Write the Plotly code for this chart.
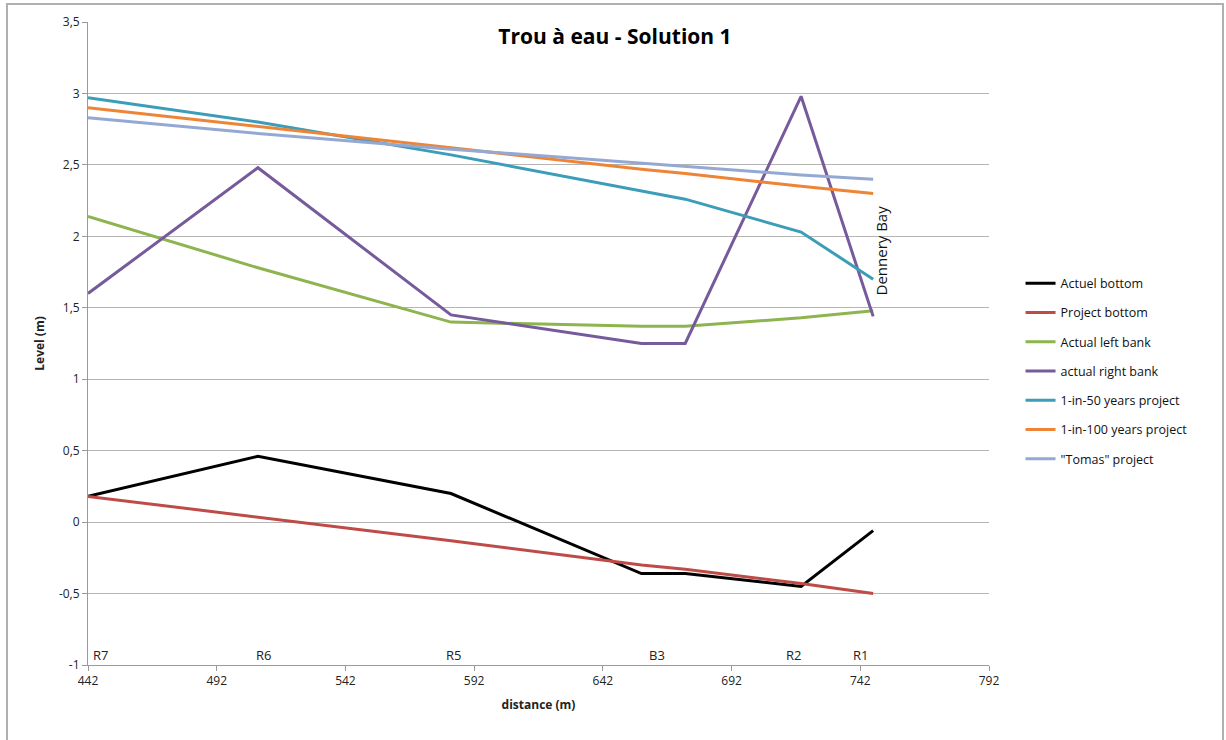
import plotly.graph_objects as go

# Chainage along the reach (m)
distance = [442, 508, 583, 657, 674, 719, 747]

actuel_bottom = [0.18, 0.46, 0.20, -0.36, -0.36, -0.45, -0.06]
project_bottom = [0.18, 0.035, -0.13, -0.30, -0.33, -0.43, -0.50]
left_bank = [2.14, 1.78, 1.40, 1.37, 1.37, 1.43, 1.48]
right_bank = [1.60, 2.48, 1.45, 1.25, 1.25, 2.98, 1.44]
proj_50 = [2.97, 2.80, 2.57, 2.32, 2.26, 2.03, 1.70]
proj_100 = [2.90, 2.77, 2.62, 2.47, 2.44, 2.35, 2.30]
proj_tomas = [2.83, 2.72, 2.61, 2.51, 2.49, 2.43, 2.40]

# Cross-section labels along the bottom of the plot
section_names = ["R7", "R6", "R5", "B3", "R2", "R1"]
section_x = [447, 510, 584, 663, 716, 742]

x_ticks = [442, 492, 542, 592, 642, 692, 742, 792]
y_ticks = [-1, -0.5, 0, 0.5, 1, 1.5, 2, 2.5, 3, 3.5]
y_tick_text = ["-1", "-0,5", "0", "0,5", "1", "1,5", "2", "2,5", "3", "3,5"]

series = [
    ("Actuel bottom", actuel_bottom, "#000000"),
    ("Project bottom", project_bottom, "#BE4B48"),
    ("Actual left bank", left_bank, "#8DB44E"),
    ("actual right bank", right_bank, "#775A9C"),
    ("1-in-50 years project", proj_50, "#3C9DB8"),
    ("1-in-100 years project", proj_100, "#EE8435"),
    ('"Tomas" project', proj_tomas, "#93A9D3"),
]

FONT = "Open Sans"

fig = go.Figure()
for name, vals, color in series:
    fig.add_trace(go.Scatter(
        x=distance, y=vals, name=name, mode="lines",
        legendgroup=name,
        line=dict(color=color, width=3),
    ))

for label, xv in zip(section_names, section_x):
    fig.add_annotation(x=xv, y=-1, text=label, showarrow=False,
                       xanchor="center", yanchor="bottom", yshift=-1,
                       font=dict(family=FONT, size=13, color="#222"))

fig.add_annotation(x=750, y=1.90, text="Dennery Bay", showarrow=False,
                   textangle=-90, font=dict(family=FONT, size=15, color="#111"))

# Outer frame around the whole chart
fig.add_shape(type="rect", xref="paper", yref="paper",
              x0=-0.0899, x1=1.2597, y0=-0.13, y1=1.028,
              line=dict(color="#b0b0b0", width=2))

fig.update_layout(
    width=1226, height=740,
    margin=dict(l=88, r=237, t=22, b=75),
    paper_bgcolor="white", plot_bgcolor="white",
    separators=", ",
    title=dict(text="<b>Trou à eau - Solution 1</b>", x=0.5016, xanchor="center",
               y=0.951, yanchor="middle",
               font=dict(family=FONT, size=21, color="#000")),
    font=dict(family=FONT, size=12, color="#222"),
    legend=dict(x=1.035, y=0.6166, xanchor="left", yanchor="top",
                font=dict(family=FONT, size=12.5, color="#111"),
                tracegroupgap=10, itemwidth=30),
    showlegend=True,
)

fig.update_xaxes(
    range=[442, 792], tickvals=x_ticks, ticktext=[str(v) for v in x_ticks],
    showgrid=False, showline=True, linecolor="#9a9a9a", linewidth=1,
    ticks="outside", ticklen=5, tickcolor="#9a9a9a",
    tickfont=dict(family=FONT, size=12, color="#222"),
    title=dict(text="<b>distance (m)</b>", font=dict(family=FONT, size=12, color="#222"),
               standoff=12),
    zeroline=False,
)
fig.update_yaxes(
    range=[-1, 3.5], tickvals=y_ticks, ticktext=y_tick_text,
    showgrid=True, gridcolor="#b5b5b5", gridwidth=1,
    showline=True, linecolor="#9a9a9a", linewidth=1,
    ticks="outside", ticklen=5, tickcolor="#9a9a9a",
    tickfont=dict(family=FONT, size=12, color="#222"),
    title=dict(text="<b>Level (m)</b>", font=dict(family=FONT, size=12, color="#222"),
               standoff=11),
    zeroline=False,
)

fig.write_html("out.html")
